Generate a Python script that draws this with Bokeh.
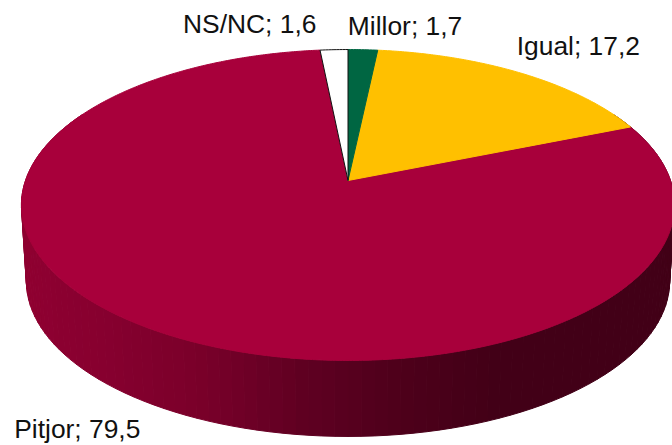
import numpy as np
from bokeh.core.properties import value
from bokeh.embed import file_html
from bokeh.models import ColumnDataSource, Range1d
from bokeh.plotting import figure
from bokeh.resources import INLINE

# Data, clockwise from 12 o'clock
categories = ["Millor", "Igual", "Pitjor", "NS/NC"]
values = [1.7, 17.2, 79.5, 1.6]
value_labels = ["1,7", "17,2", "79,5", "1,6"]
colors = ["#006642", "#FFC000", "#A8003B", "#FFFFFF"]

# Pie geometry (page pixels): a circle seen in perspective
APEX_X, APEX_Y = 347.5, 180.0
A, B, K = 322.5, 151.6, 0.1576
DEPTH, BASE_SHRINK = 76.0, 0.985
# Label placement relative to each slice's rim midpoint (px)
label_dx = [-15, -4, -141, -151]
label_dy = [-24, -27, 99, -26]
# Side shading: x position -> colour
shade_x = [21, 110, 200, 300, 400, 500, 672]
shade_rgb = [(0x90, 0, 0x32), (0x86, 0, 0x2F), (0x7A, 0, 0x2A), (0x60, 0, 0x22),
             (0x4E, 0, 0x1B), (0x42, 0, 0x17), (0x42, 0, 0x17)]


def rim(theta_deg):
    t = np.radians(np.asarray(theta_deg, dtype=float))
    u, v = np.sin(t), np.cos(t)
    d = 1 + K * v
    return APEX_X + A * u / d, APEX_Y - B * v / d


p = figure(width=672, height=445, output_backend="svg", toolbar_location=None,
           x_range=Range1d(0, 672), y_range=Range1d(445, 0),
           min_border=0, outline_line_color=None)
p.axis.visible = False
p.grid.visible = False

# Side wall, drawn as narrow shaded strips
edges = np.arange(62, 300, 2.0)
xs, ys, cols = [], [], []
for a, b in zip(edges[:-1], edges[1:]):
    (x1, y1), (x2, y2) = rim(a), rim(b)
    lx1 = APEX_X + (x1 - APEX_X) * BASE_SHRINK
    lx2 = APEX_X + (x2 - APEX_X) * BASE_SHRINK
    xs.append([x1, x2, lx2, lx1])
    ys.append([y1, y2, y2 + DEPTH, y1 + DEPTH])
    xm = (x1 + x2) / 2
    c = [int(np.interp(xm, shade_x, [s[i] for s in shade_rgb])) for i in range(3)]
    cols.append("#%02x%02x%02x" % tuple(c))
p.patches(xs, ys, fill_color=cols, line_color=cols, line_width=1)

# Top face
angles = np.cumsum([0] + values) * 3.6
wx, wy, mids = [], [], []
for a, b in zip(angles[:-1], angles[1:]):
    th = np.linspace(a, b, max(3, int((b - a) * 2)))
    rx, ry = rim(th)
    wx.append([APEX_X, *rx])
    wy.append([APEX_Y, *ry])
    mids.append((a + b) / 2)
line_cols = [None, None, None, "#111111"]
for i in [2, 1, 0, 3]:
    p.patch(wx[i], wy[i], fill_color=colors[i], line_color=line_cols[i] or colors[i],
            line_width=1.0)

# Labels
lx, ly = rim(mids)
src = ColumnDataSource(dict(
    x=lx, y=ly,
    text=[f"{c}; {t}" for c, t in zip(categories, value_labels)],
    dx=label_dx, dy=label_dy))
p.text("x", "y", text="text", x_offset="dx", y_offset="dy", source=src,
       text_font=value("Liberation Sans"), text_font_size="26.4px",
       text_color="#111111", text_align="left", text_baseline="middle")

open("out.html", "w").write(file_html(p, INLINE))
